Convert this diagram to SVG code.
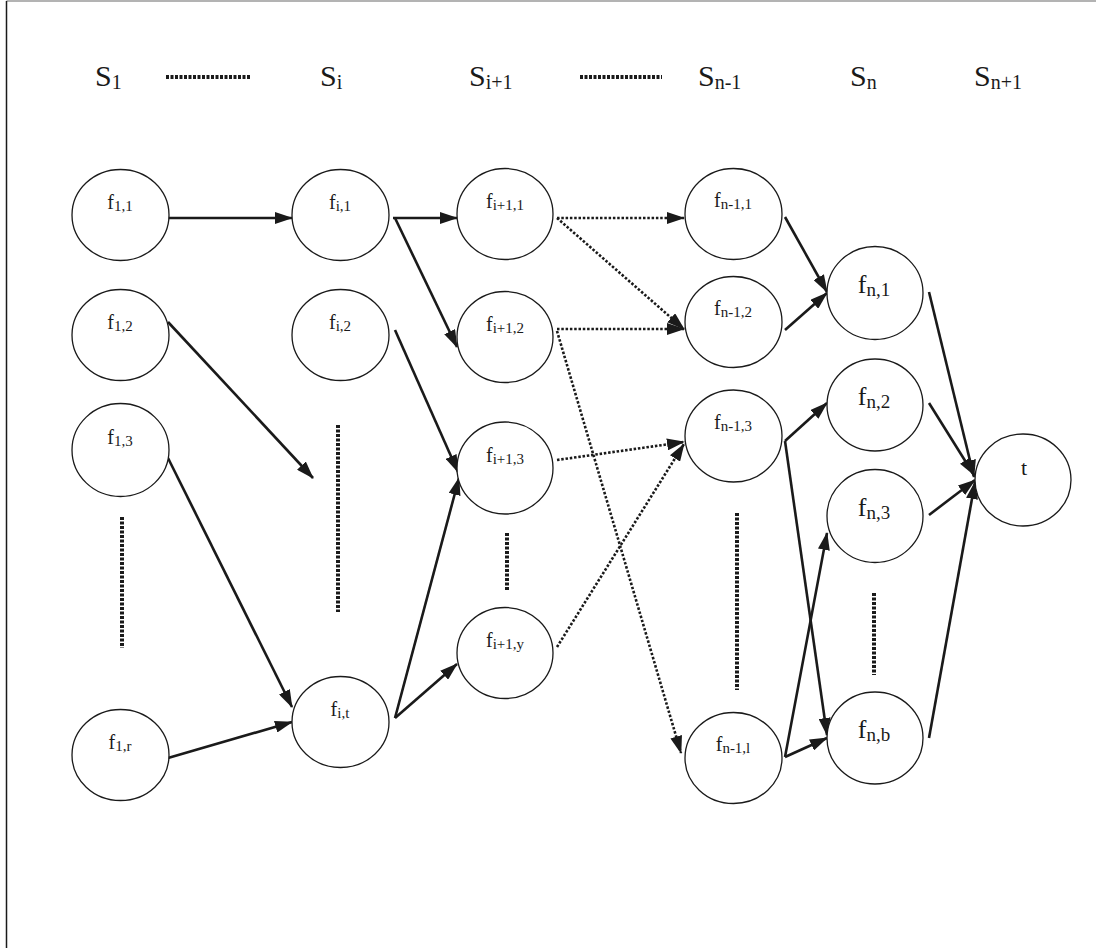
<svg xmlns="http://www.w3.org/2000/svg" width="1096" height="948" viewBox="0 0 1096 948" font-family="'Liberation Serif', 'Times New Roman', serif">
  <defs>
    <marker id="arrow" markerUnits="userSpaceOnUse" markerWidth="18" markerHeight="12" viewBox="0 0 18 12" refX="17" refY="6" orient="auto">
      <path d="M0,0 L18,6 L0,12 Z" fill="#1a1a1a"/>
    </marker>
    <style>
      .node ellipse { fill: #ffffff; stroke: #1a1a1a; stroke-width: 1.3; }
      .lbl { font-family: 'Liberation Serif', 'Times New Roman', serif; font-size: 20px; fill: #1a1a1a; text-anchor: middle; }
      .lbl tspan { font-size: 15px; }
      .lbl-n { font-family: 'Liberation Serif', 'Times New Roman', serif; font-size: 26px; fill: #1a1a1a; text-anchor: middle; }
      .lbl-n tspan { font-size: 19px; }
      .stage { font-family: 'Liberation Serif', 'Times New Roman', serif; font-size: 30px; fill: #1a1a1a; }
      .stage tspan { font-size: 20px; }
      .solid { fill: none; stroke: #1a1a1a; stroke-width: 2.6; marker-end: url(#arrow); }
      .dotted { fill: none; stroke: #1a1a1a; stroke-width: 2.6; stroke-dasharray: 2.5 1.8; marker-end: url(#arrow); }
      .ellipsis { fill: none; stroke: #1a1a1a; stroke-width: 4; stroke-dasharray: 3 1.5; }
    </style>
  </defs>

  <!-- frame -->
  <path d="M6.5,1 H1096" fill="none" stroke="#9a9a9a" stroke-width="1.5"/>
  <path d="M6.5,948 V1" fill="none" stroke="#1a1a1a" stroke-width="1.5"/>

  <!-- stage headings -->
  <g id="stages">
    <text class="stage" x="95" y="86">S<tspan dy="3">1</tspan></text>
    <line class="ellipsis" x1="166" y1="77" x2="250" y2="77"/>
    <text class="stage" x="320" y="86">S<tspan dy="3">i</tspan></text>
    <text class="stage" x="469" y="86">S<tspan dy="3">i+1</tspan></text>
    <line class="ellipsis" x1="580" y1="77" x2="662" y2="77"/>
    <text class="stage" x="698" y="86">S<tspan dy="3">n-1</tspan></text>
    <text class="stage" x="850" y="86">S<tspan dy="3">n</tspan></text>
    <text class="stage" x="974" y="86">S<tspan dy="3">n+1</tspan></text>
  </g>

  <!-- connectors -->
  <g id="connectors">
    <line class="solid" x1="168" y1="218" x2="292" y2="218"/>
    <line class="solid" x1="168" y1="322" x2="313" y2="478"/>
    <line class="solid" x1="168" y1="458" x2="292" y2="707"/>
    <line class="solid" x1="168" y1="758" x2="292" y2="722"/>

    <line class="solid" x1="393" y1="218" x2="457" y2="218"/>
    <line class="solid" x1="395" y1="218" x2="457" y2="347"/>
    <line class="solid" x1="395" y1="330" x2="458" y2="472"/>
    <line class="solid" x1="395" y1="718" x2="459" y2="478"/>
    <line class="solid" x1="395" y1="718" x2="457" y2="664"/>

    <line class="dotted" x1="557" y1="218" x2="684" y2="218"/>
    <line class="dotted" x1="557" y1="218" x2="684" y2="329"/>
    <line class="dotted" x1="557" y1="329" x2="684" y2="329"/>
    <line class="dotted" x1="557" y1="331" x2="681" y2="753"/>
    <line class="dotted" x1="557" y1="460" x2="684" y2="442"/>
    <line class="dotted" x1="557" y1="647" x2="684" y2="444"/>

    <line class="solid" x1="785" y1="217" x2="827" y2="292"/>
    <line class="solid" x1="785" y1="330" x2="827" y2="293"/>
    <line class="solid" x1="785" y1="441" x2="827" y2="403"/>
    <line class="solid" x1="785" y1="441" x2="827" y2="735"/>
    <line class="solid" x1="785" y1="757" x2="827" y2="533"/>
    <line class="solid" x1="785" y1="757" x2="827" y2="738"/>

    <line class="solid" x1="929" y1="292" x2="974" y2="477"/>
    <line class="solid" x1="929" y1="403" x2="974" y2="475"/>
    <line class="solid" x1="929" y1="515" x2="975" y2="480"/>
    <line class="solid" x1="929" y1="738" x2="975" y2="482"/>
  </g>

  <!-- elided nodes -->
  <g id="ellipses">
    <line class="ellipsis" x1="122" y1="517" x2="122" y2="648"/>
    <line class="ellipsis" x1="338" y1="425" x2="338" y2="612"/>
    <line class="ellipsis" x1="507" y1="533" x2="507" y2="590"/>
    <line class="ellipsis" x1="737" y1="513" x2="737" y2="690"/>
    <line class="ellipsis" x1="874" y1="593" x2="874" y2="675"/>
  </g>

  <!-- stage S1 -->
  <g id="f1_1" class="node"><ellipse cx="120.5" cy="215" rx="48.5" ry="45.5"/><text class="lbl" x="120" y="209">f<tspan dy="2">1,1</tspan></text></g>
  <g id="f1_2" class="node"><ellipse cx="120.5" cy="335" rx="48.5" ry="45.5"/><text class="lbl" x="120" y="329">f<tspan dy="2">1,2</tspan></text></g>
  <g id="f1_3" class="node"><ellipse cx="120.5" cy="450" rx="48.5" ry="46.5"/><text class="lbl" x="120" y="444">f<tspan dy="2">1,3</tspan></text></g>
  <g id="f1_r" class="node"><ellipse cx="120.5" cy="755" rx="48.5" ry="45.5"/><text class="lbl" x="120" y="749">f<tspan dy="2">1,r</tspan></text></g>

  <!-- stage Si -->
  <g id="fi_1" class="node"><ellipse cx="340.5" cy="215" rx="48.5" ry="45.5"/><text class="lbl" x="340" y="209">f<tspan dy="2">i,1</tspan></text></g>
  <g id="fi_2" class="node"><ellipse cx="340.5" cy="335" rx="48.5" ry="45.5"/><text class="lbl" x="340" y="329">f<tspan dy="2">i,2</tspan></text></g>
  <g id="fi_t" class="node"><ellipse cx="340.5" cy="722" rx="48.5" ry="45.5"/><text class="lbl" x="340" y="716">f<tspan dy="2">i,t</tspan></text></g>

  <!-- stage Si+1 -->
  <g id="fi1_1" class="node"><ellipse cx="505" cy="214" rx="48" ry="45.5"/><text class="lbl" x="505" y="208">f<tspan dy="2">i+1,1</tspan></text></g>
  <g id="fi1_2" class="node"><ellipse cx="505" cy="337" rx="48" ry="45.5"/><text class="lbl" x="505" y="331">f<tspan dy="2">i+1,2</tspan></text></g>
  <g id="fi1_3" class="node"><ellipse cx="505" cy="468" rx="48" ry="46"/><text class="lbl" x="505" y="462">f<tspan dy="2">i+1,3</tspan></text></g>
  <g id="fi1_y" class="node"><ellipse cx="505" cy="653" rx="48" ry="45.5"/><text class="lbl" x="505" y="647">f<tspan dy="2">i+1,y</tspan></text></g>

  <!-- stage Sn-1 -->
  <g id="fn1_1" class="node"><ellipse cx="733.5" cy="214" rx="48.5" ry="45.5"/><text class="lbl" x="733" y="207">f<tspan dy="2">n-1,1</tspan></text></g>
  <g id="fn1_2" class="node"><ellipse cx="733.5" cy="322" rx="48.5" ry="45.5"/><text class="lbl" x="733" y="315">f<tspan dy="2">n-1,2</tspan></text></g>
  <g id="fn1_3" class="node"><ellipse cx="733.5" cy="436" rx="48.5" ry="46"/><text class="lbl" x="733" y="429">f<tspan dy="2">n-1,3</tspan></text></g>
  <g id="fn1_l" class="node"><ellipse cx="733.5" cy="758" rx="48.5" ry="45.5"/><text class="lbl" x="733" y="751">f<tspan dy="2">n-1,l</tspan></text></g>

  <!-- stage Sn -->
  <g id="fn_1" class="node"><ellipse cx="875" cy="293" rx="48" ry="46.5"/><text class="lbl-n" x="874" y="293">f<tspan dy="3">n,1</tspan></text></g>
  <g id="fn_2" class="node"><ellipse cx="875" cy="405" rx="48" ry="46"/><text class="lbl-n" x="874" y="405">f<tspan dy="3">n,2</tspan></text></g>
  <g id="fn_3" class="node"><ellipse cx="875" cy="516" rx="48" ry="46.5"/><text class="lbl-n" x="874" y="516">f<tspan dy="3">n,3</tspan></text></g>
  <g id="fn_b" class="node"><ellipse cx="875" cy="738" rx="48" ry="46"/><text class="lbl-n" x="874" y="738">f<tspan dy="3">n,b</tspan></text></g>

  <!-- sink -->
  <g id="t" class="node"><ellipse cx="1023" cy="480" rx="48" ry="46"/><text class="lbl" x="1024" y="475" style="font-size:22px">t</text></g>
</svg>
